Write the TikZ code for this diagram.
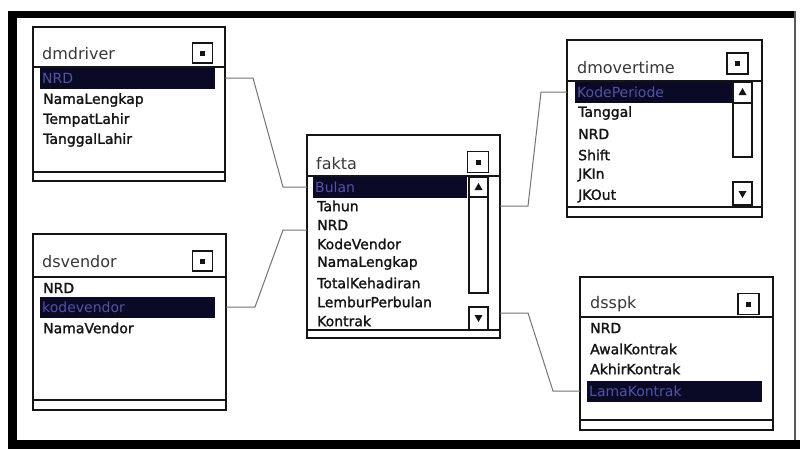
\documentclass[tikz,border=0pt]{standalone}
\usepackage{fontspec}
\setmainfont{DejaVu Sans}
\newfontfamily\rowfont[FakeBold=1.5]{DejaVu Sans}
\usetikzlibrary{calc}
\definecolor{hilite}{HTML}{0A0A26}
\definecolor{hitext}{HTML}{5252A8}
\definecolor{ink}{HTML}{151515}
\tikzset{
  tblbox/.style={draw=ink, line width=1.5pt, fill=white, inner sep=0pt, outer sep=0pt, anchor=north west},
  ttl/.style={anchor=west, inner sep=0pt, text=ink!85, font=\fontsize{16}{18}\selectfont},
  rowtxt/.style={anchor=west, inner sep=0pt, text=ink, font=\rowfont\fontsize{14}{16}\selectfont},
  hirow/.style={anchor=west, fill=hilite, text=hitext, inner xsep=2pt, inner ysep=0pt, minimum height=21pt, align=left, text width=#1, font=\fontsize{14}{16}\selectfont},
  closebtn/.style={draw=ink, line width=1.8pt, fill=white, minimum size=#1, inner sep=0pt,
    path picture={\fill[ink] ($(path picture bounding box.center)+(-2.5pt,-2.5pt)$) rectangle ++(5pt,5pt);}},
  sepline/.style={draw=ink, line width=1.8pt},
  footline/.style={draw=ink, line width=1.5pt},
  sbtn/.style={draw=ink, line width=1.3pt, fill=white},
  wire/.style={draw=black!55, line width=1pt},
}
\begin{document}
\begin{tikzpicture}[x=1pt,y=-1pt]
\useasboundingbox (0,0) rectangle (800,450);
\fill[white] (0,0) rectangle (800,450);
% outer frame
\fill[black] (8,11) rectangle (17,449);
\fill[black] (8,11) rectangle (796,18);
\fill[black] (8,440) rectangle (800,449);
\draw[line width=1.5pt, black!65] (795,11) -- (795,440);

% ---------- dmdriver ----------
\node[tblbox, minimum width=192pt, minimum height=154pt] (drv) at (33,27) {};
\draw[sepline] (33,67) -- (225,67);
\draw[footline] (33,172) -- (225,172);
\node[ttl] (drv-t) at (42,54) {dmdriver};
\node[closebtn=20pt] (drv-x) at (202.5,53) {};
\node[hirow=171pt] (drv-hl) at (40,78) {NRD};
\node[rowtxt] (drv-r2) at (43,100) {NamaLengkap};
\node[rowtxt] (drv-r3) at (43,120) {TempatLahir};
\node[rowtxt] (drv-r4) at (43,140) {TanggalLahir};

% ---------- dsvendor ----------
\node[tblbox, minimum width=193pt, minimum height=176pt] (ven) at (33,234) {};
\draw[sepline] (33,277) -- (226,277);
\draw[footline] (33,400) -- (226,400);
\node[ttl] (ven-t) at (42,262) {dsvendor};
\node[closebtn=20pt] (ven-x) at (202.5,261) {};
\node[rowtxt] (ven-r1) at (43,288) {NRD};
\node[hirow=171pt] (ven-hl) at (40,307) {kodevendor};
\node[rowtxt] (ven-r3) at (43,328) {NamaVendor};

% ---------- fakta ----------
\node[tblbox, minimum width=193pt, minimum height=203pt] (fk) at (307,135) {};
\draw[sepline] (307,176) -- (500,176);
\draw[footline] (307,330) -- (500,330);
\node[ttl] (fk-t) at (316,164) {fakta};
\node[closebtn=21pt] (fk-x) at (478,162) {};
\node[hirow=150pt] (fk-hl) at (313,187) {Bulan};
\node[rowtxt] (fk-r2) at (317,206) {Tahun};
\node[rowtxt] (fk-r3) at (317,225) {NRD};
\node[rowtxt] (fk-r4) at (317,244) {KodeVendor};
\node[rowtxt] (fk-r5) at (317,263) {NamaLengkap};
\node[rowtxt] (fk-r6) at (317,283) {TotalKehadiran};
\node[rowtxt] (fk-r7) at (317,302) {LemburPerbulan};
\node[rowtxt] (fk-r8) at (317,321) {Kontrak};
\draw[sbtn] (469,177) rectangle (488,197);
\fill[ink] (478.5,183) -- (474.5,190) -- (482.5,190) -- cycle;
\draw[sbtn] (469,197) rectangle (488,293);
\draw[ink, line width=2.2pt] (488,197) -- (488,293) -- (469,293);
\draw[sbtn] (469,307) rectangle (488,330);
\draw[ink, line width=2.2pt] (488,307) -- (488,330);
\fill[ink] (478.5,322) -- (474.5,315) -- (482.5,315) -- cycle;
\coordinate (fk-in2) at (307,230);
\coordinate (fk-out2) at (500,313);

% ---------- dmovertime ----------
\node[tblbox, minimum width=195pt, minimum height=177pt] (ot) at (567,40) {};
\draw[sepline] (567,81) -- (762,81);
\draw[footline] (567,207) -- (762,207);
\node[ttl] (ot-t) at (577,68) {dmovertime};
\node[closebtn=21pt] (ot-x) at (737.5,63.5) {};
\node[hirow=154pt] (ot-hl) at (575,92) {KodePeriode};
\node[rowtxt] (ot-r2) at (578,113) {Tanggal};
\node[rowtxt] (ot-r3) at (578,134) {NRD};
\node[rowtxt] (ot-r4) at (578,155) {Shift};
\node[rowtxt] (ot-r5) at (578,175) {JKIn};
\node[rowtxt] (ot-r6) at (578,196) {JKOut};
\draw[sbtn] (733,82) rectangle (752,103);
\fill[ink] (742.5,88) -- (738.5,95) -- (746.5,95) -- cycle;
\draw[sbtn] (733,103) rectangle (752,157);
\draw[ink, line width=2.2pt] (752,103) -- (752,157) -- (733,157);
\draw[sbtn] (733,182) rectangle (752,205);
\draw[ink, line width=2.2pt] (752,182) -- (752,205);
\fill[ink] (742.5,198) -- (738.5,191) -- (746.5,191) -- cycle;

% ---------- dsspk ----------
\node[tblbox, minimum width=193pt, minimum height=153pt] (sp) at (580,277) {};
\draw[sepline] (580,317) -- (773,317);
\draw[footline] (580,420) -- (773,420);
\node[ttl] (sp-t) at (590,304) {dsspk};
\node[closebtn=21pt] (sp-x) at (748.5,304) {};
\node[rowtxt] (sp-r1) at (590,328) {NRD};
\node[rowtxt] (sp-r2) at (590,349) {AwalKontrak};
\node[rowtxt] (sp-r3) at (590,369) {AkhirKontrak};
\node[hirow=171pt] (sp-hl) at (587,391) {LamaKontrak};

% ---------- connectors ----------
\draw[wire] (drv.east |- drv-hl) -- ++(28,0) -- ($(fk.west |- fk-hl)+(-24,0)$) -- (fk.west |- fk-hl);
\draw[wire] (ven.east |- ven-hl) -- ++(29,0) -- ($(fk-in2)+(-24,0)$) -- (fk-in2);
\draw[wire] (fk.east |- fk-r2) -- ++(28,0) -- ($(ot.west |- ot-hl)+(-26,0)$) -- (ot.west |- ot-hl);
\draw[wire] (fk-out2) -- ++(28,0) -- ($(sp.west |- sp-hl)+(-27,0)$) -- (sp.west |- sp-hl);
\end{tikzpicture}
\end{document}
